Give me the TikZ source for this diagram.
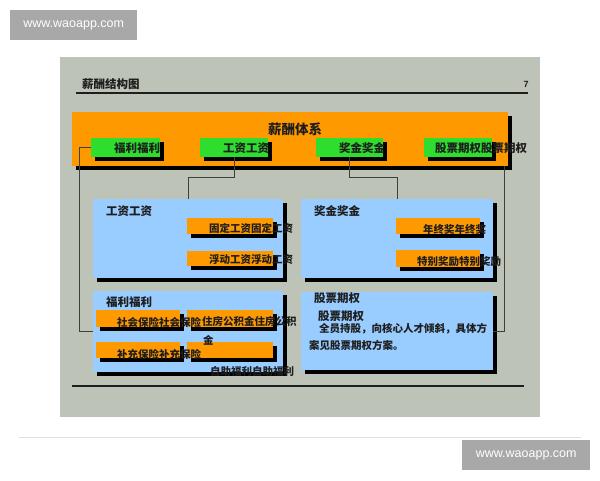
\documentclass[tikz,border=0pt]{standalone}
\usepackage{fontspec}
\setmainfont{Liberation Sans}
\newfontfamily\cjk{Noto Sans CJK SC}
\usetikzlibrary{shadows,calc}
\definecolor{slide}{HTML}{BEC3B7}
\definecolor{orng}{HTML}{FF9900}
\definecolor{grn}{HTML}{2EDD2E}
\definecolor{blu}{HTML}{99CCFF}
\definecolor{ink}{HTML}{1E1E1E}
\definecolor{wm}{HTML}{A8A8A8}
\definecolor{conn}{HTML}{3F3F3F}
\begin{document}
\begin{tikzpicture}[x=1pt,y=-1pt,
  shd/.style={drop shadow={shadow xshift=4pt,shadow yshift=-4pt,fill=black,opacity=1}},
  rbox/.style={anchor=north west,inner sep=0pt,draw=none,shd},
  obox/.style={rbox,fill=orng},
  gbox/.style={rbox,fill=grn},
  bbox/.style={rbox,fill=blu},
  lbl/.style={anchor=west,inner sep=0pt,text=ink,font=\cjk\bfseries\fontsize{10.5}{12}\selectfont},
  hdr/.style={anchor=west,inner sep=0pt,text=ink,font=\cjk\bfseries\fontsize{11.5}{13}\selectfont},
  link/.style={draw=conn,line width=0.8pt}]
\useasboundingbox (0,0) rectangle (600,480);
\fill[white] (0,0) rectangle (600,480);
% watermarks
\node[anchor=north west,fill=wm,minimum width=127pt,minimum height=30pt,inner sep=0pt,text=white,font=\fontsize{12.5}{14}\selectfont] (wm1) at (10,10) {www.waoapp.com};
\node[anchor=north west,fill=wm,minimum width=128pt,minimum height=30pt,inner sep=0pt,text=white,font=\fontsize{12.5}{14}\selectfont] (wm2) at (462,440) {www.waoapp.com};
\draw[draw=black!12,line width=1pt] (19,437) -- (581,437);
% slide
\fill[slide] (60,57) rectangle (540,417);
\node[hdr] (title) at (82,84) {薪酬结构图};
\node[anchor=center,inner sep=0pt,text=ink,font=\bfseries\fontsize{9}{10}\selectfont] (pg) at (526,84) {7};
\draw[line width=2.2pt,draw=ink] (76,93) -- (528,93);
\draw[line width=2.2pt,draw=ink] (72,386) -- (524,386);
% top system
\node[obox,minimum width=436pt,minimum height=54pt] (top) at (72,112) {};
\node[anchor=center,inner sep=0pt,text=ink,font=\cjk\bfseries\fontsize{13.5}{15}\selectfont] (sys) at (295,129) {薪酬体系};
\node[gbox,minimum width=69pt,minimum height=19pt] (g1) at (91,138) {};
\node[gbox,minimum width=68pt,minimum height=19pt] (g2) at (200,138) {};
\node[gbox,minimum width=67pt,minimum height=19pt] (g3) at (316,138) {};
\node[gbox,minimum width=68pt,minimum height=19pt] (g4) at (424,138) {};
\node[hdr] (t1) at (114,148) {福利福利};
\node[hdr] (t2) at (223,148) {工资工资};
\node[hdr] (t3) at (339,148) {奖金奖金};
\node[hdr] (t4) at (435,148) {股票期权股票期权};
% blue panels
\node[bbox,minimum width=190pt,minimum height=79pt] (bWage) at (93,199) {};
\node[bbox,minimum width=192pt,minimum height=79pt] (bBonus) at (301,199) {};
\node[bbox,minimum width=190pt,minimum height=81pt] (bWelf) at (93,291) {};
\node[bbox,minimum width=192pt,minimum height=78pt] (bStock) at (301,292) {};
% wage items
\node[obox,minimum width=86pt,minimum height=16pt] (oFix) at (187,218) {};
\node[obox,minimum width=86pt,minimum height=15pt] (oFloat) at (187,251) {};
\node[hdr] (hWage) at (106,211) {工资工资};
\node[lbl] (tFix) at (209,228) {固定工资固定工资};
\node[lbl] (tFloat) at (209,260) {浮动工资浮动工资};
% bonus items
\node[obox,minimum width=84pt,minimum height=16pt] (oYear) at (396,218) {};
\node[obox,minimum width=84pt,minimum height=17pt] (oSpec) at (396,250) {};
\node[hdr] (hBonus) at (314,211) {奖金奖金};
\node[lbl] (tYear) at (423,229) {年终奖年终奖};
\node[lbl] (tSpec) at (417,262) {特别奖励特别奖励};
% welfare items
\node[obox,minimum width=84pt,minimum height=17pt] (oSoc) at (96,310) {};
\node[obox,minimum width=86pt,minimum height=17pt] (oHouse) at (187,310) {};
\node[obox,minimum width=84pt,minimum height=16pt] (oSupp) at (96,342) {};
\node[obox,minimum width=86pt,minimum height=16pt] (oSelf) at (187,342) {};
\node[hdr] (hWelf) at (106,302) {福利福利};
\node[lbl] (tSoc) at (117,322) {社会保险社会保险};
\node[lbl] (tHouse) at (202,322) {住房公积金住房公积};
\node[lbl] (tHouse2) at (203,340) {金};
\node[lbl] (tSupp) at (117,354) {补充保险补充保险};
\node[lbl] (tSelf) at (210,372) {自助福利自助福利};
% stock panel
\node[hdr] (hStock) at (314,298) {股票期权};
\node[hdr] (hStock2) at (318,316) {股票期权};
\node[lbl] (tStock1) at (319,329) {全员持股，向核心人才倾斜，具体方};
\node[lbl] (tStock2) at (309,345) {案见股票期权方案。};
% connectors
\draw[link] (g1.west) -- ++(-12,0) |- (bWelf.west);
\draw[link] (g2.south) -- ++(0,20) -| (bWage.north);
\draw[link] (g3.south) -- ++(0,20) -| (bBonus.north);
\draw[link] ($(top.south east)+(-4,0)$) |- (bStock.east);
\end{tikzpicture}
\end{document}
